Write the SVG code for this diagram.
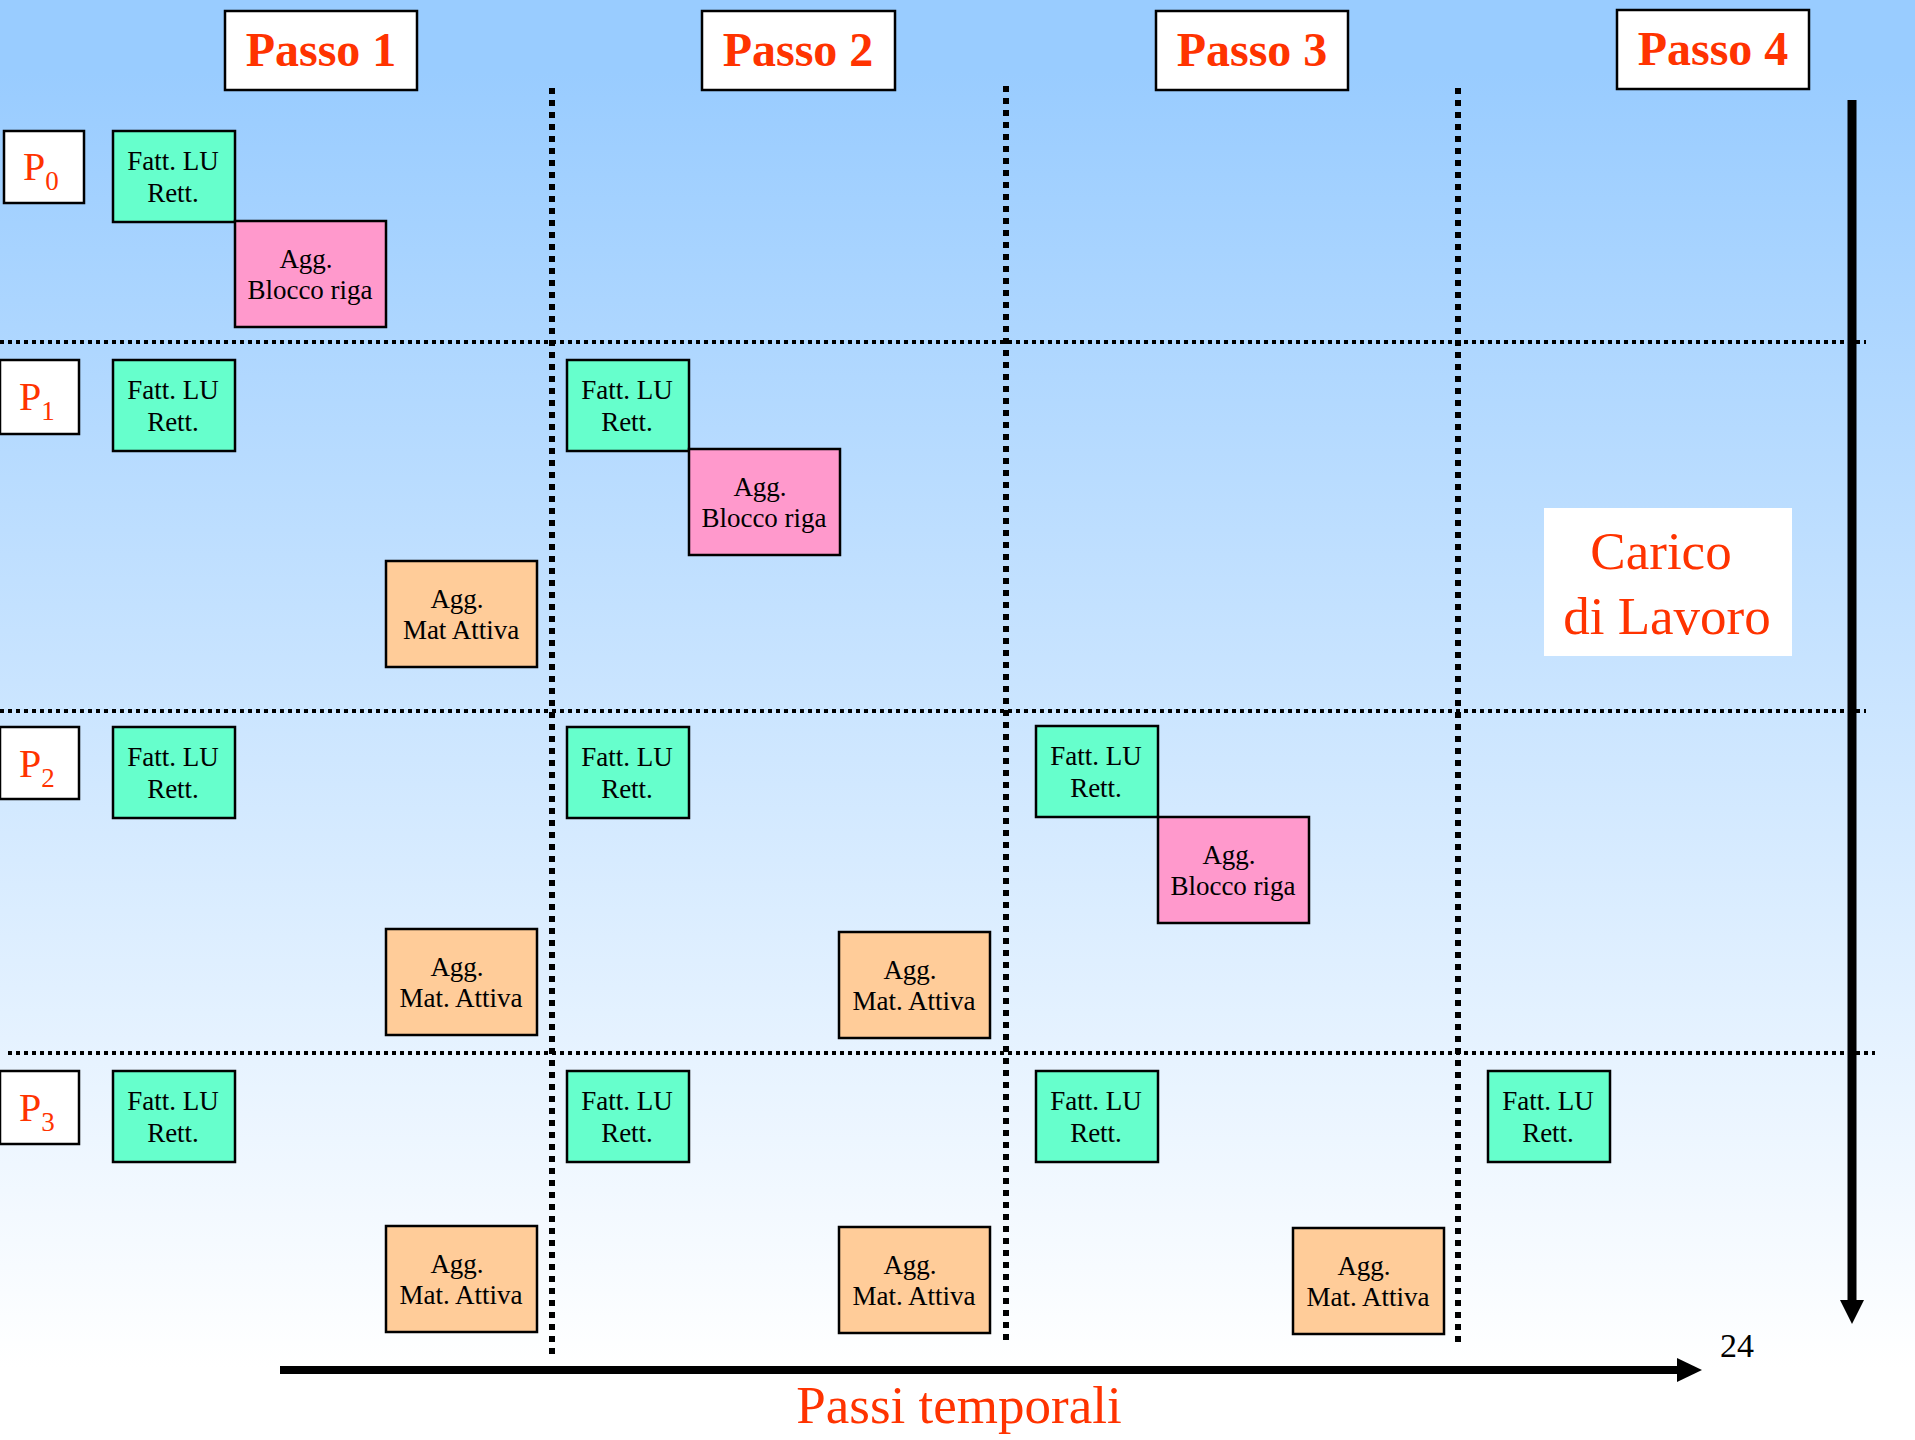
<svg xmlns="http://www.w3.org/2000/svg" width="1915" height="1440" viewBox="0 0 1915 1440">
<defs>
<linearGradient id="bg" x1="0" y1="0" x2="0" y2="1440" gradientUnits="userSpaceOnUse">
<stop offset="0.05" stop-color="#99CCFF"/>
<stop offset="0.95" stop-color="#FFFFFF"/>
</linearGradient>
<style>
.fatt{fill:#66FFCC;stroke:#000;stroke-width:2.5}
.aggb{fill:#FF99CC;stroke:#000;stroke-width:2.5}
.aggm{fill:#FFCC99;stroke:#000;stroke-width:2.5}
.wbox{fill:#FFFFFF;stroke:#000;stroke-width:2.5}
.t{font-family:"Liberation Serif","Times New Roman",serif;font-size:27px;fill:#000;text-anchor:middle}
.passo{font-family:"Liberation Serif","Times New Roman",serif;font-size:48px;font-weight:bold;fill:#FF3300;text-anchor:middle}
.red{font-family:"Liberation Serif","Times New Roman",serif;fill:#FF3300}
.vdot{stroke:#000;stroke-width:6;stroke-dasharray:6 6;fill:none}
.hdot{stroke:#000;stroke-width:4;stroke-dasharray:4 4;fill:none}
</style>
</defs>
<rect x="0" y="0" width="1915" height="1440" fill="url(#bg)"/>

<g id="grid">
<line class="hdot" x1="0" y1="342" x2="1866" y2="342"/>
<line class="hdot" x1="0" y1="711" x2="1866" y2="711"/>
<line class="hdot" x1="8" y1="1053" x2="1875" y2="1053"/>
<line class="vdot" x1="552" y1="88" x2="552" y2="1355"/>
<line class="vdot" x1="1006" y1="86" x2="1006" y2="1340"/>
<line class="vdot" x1="1458" y1="88" x2="1458" y2="1343"/>
</g>

<g id="passo1"><rect class="wbox" x="225" y="11" width="192" height="79"/><text class="passo" x="321" y="66">Passo 1</text></g>
<g id="passo2"><rect class="wbox" x="702" y="11" width="193" height="79"/><text class="passo" x="798" y="66">Passo 2</text></g>
<g id="passo3"><rect class="wbox" x="1156" y="11" width="192" height="79"/><text class="passo" x="1252" y="66">Passo 3</text></g>
<g id="passo4"><rect class="wbox" x="1617" y="10" width="192" height="79"/><text class="passo" x="1713" y="65">Passo 4</text></g>

<g id="p0"><rect class="wbox" x="4" y="131" width="80" height="72"/><text class="red" x="23" y="180" font-size="40">P<tspan font-size="27" dy="10">0</tspan></text></g>
<g id="p1"><rect class="wbox" x="0" y="360" width="79" height="74"/><text class="red" x="19" y="410" font-size="40">P<tspan font-size="27" dy="10">1</tspan></text></g>
<g id="p2"><rect class="wbox" x="0" y="727" width="79" height="72"/><text class="red" x="19" y="777" font-size="40">P<tspan font-size="27" dy="10">2</tspan></text></g>
<g id="p3"><rect class="wbox" x="0" y="1071" width="79" height="73"/><text class="red" x="19" y="1121" font-size="40">P<tspan font-size="27" dy="10">3</tspan></text></g>

<g id="p0-fatt1"><rect class="fatt" x="113" y="131" width="122" height="91"/><text class="t" x="173" y="170">Fatt. LU</text><text class="t" x="173" y="202">Rett.</text></g>
<g id="p0-aggb1"><rect class="aggb" x="235" y="221" width="151" height="106"/><text class="t" x="306" y="268">Agg.</text><text class="t" x="310" y="299">Blocco riga</text></g>

<g id="p1-fatt1"><rect class="fatt" x="113" y="360" width="122" height="91"/><text class="t" x="173" y="399">Fatt. LU</text><text class="t" x="173" y="431">Rett.</text></g>
<g id="p1-fatt2"><rect class="fatt" x="567" y="360" width="122" height="91"/><text class="t" x="627" y="399">Fatt. LU</text><text class="t" x="627" y="431">Rett.</text></g>
<g id="p1-aggb2"><rect class="aggb" x="689" y="449" width="151" height="106"/><text class="t" x="760" y="496">Agg.</text><text class="t" x="764" y="527">Blocco riga</text></g>
<g id="p1-aggm1"><rect class="aggm" x="386" y="561" width="151" height="106"/><text class="t" x="457" y="608">Agg.</text><text class="t" x="461" y="639">Mat Attiva</text></g>

<g id="p2-fatt1"><rect class="fatt" x="113" y="727" width="122" height="91"/><text class="t" x="173" y="766">Fatt. LU</text><text class="t" x="173" y="798">Rett.</text></g>
<g id="p2-fatt2"><rect class="fatt" x="567" y="727" width="122" height="91"/><text class="t" x="627" y="766">Fatt. LU</text><text class="t" x="627" y="798">Rett.</text></g>
<g id="p2-fatt3"><rect class="fatt" x="1036" y="726" width="122" height="91"/><text class="t" x="1096" y="765">Fatt. LU</text><text class="t" x="1096" y="797">Rett.</text></g>
<g id="p2-aggb3"><rect class="aggb" x="1158" y="817" width="151" height="106"/><text class="t" x="1229" y="864">Agg.</text><text class="t" x="1233" y="895">Blocco riga</text></g>
<g id="p2-aggm1"><rect class="aggm" x="386" y="929" width="151" height="106"/><text class="t" x="457" y="976">Agg.</text><text class="t" x="461" y="1007">Mat. Attiva</text></g>
<g id="p2-aggm2"><rect class="aggm" x="839" y="932" width="151" height="106"/><text class="t" x="910" y="979">Agg.</text><text class="t" x="914" y="1010">Mat. Attiva</text></g>

<g id="p3-fatt1"><rect class="fatt" x="113" y="1071" width="122" height="91"/><text class="t" x="173" y="1110">Fatt. LU</text><text class="t" x="173" y="1142">Rett.</text></g>
<g id="p3-fatt2"><rect class="fatt" x="567" y="1071" width="122" height="91"/><text class="t" x="627" y="1110">Fatt. LU</text><text class="t" x="627" y="1142">Rett.</text></g>
<g id="p3-fatt3"><rect class="fatt" x="1036" y="1071" width="122" height="91"/><text class="t" x="1096" y="1110">Fatt. LU</text><text class="t" x="1096" y="1142">Rett.</text></g>
<g id="p3-fatt4"><rect class="fatt" x="1488" y="1071" width="122" height="91"/><text class="t" x="1548" y="1110">Fatt. LU</text><text class="t" x="1548" y="1142">Rett.</text></g>
<g id="p3-aggm1"><rect class="aggm" x="386" y="1226" width="151" height="106"/><text class="t" x="457" y="1273">Agg.</text><text class="t" x="461" y="1304">Mat. Attiva</text></g>
<g id="p3-aggm2"><rect class="aggm" x="839" y="1227" width="151" height="106"/><text class="t" x="910" y="1274">Agg.</text><text class="t" x="914" y="1305">Mat. Attiva</text></g>
<g id="p3-aggm3"><rect class="aggm" x="1293" y="1228" width="151" height="106"/><text class="t" x="1364" y="1275">Agg.</text><text class="t" x="1368" y="1306">Mat. Attiva</text></g>

<g id="carico">
<rect x="1544" y="508" width="248" height="148" fill="#FFFFFF"/>
<text class="red" x="1661" y="569" font-size="53" text-anchor="middle">Carico</text>
<text class="red" x="1667" y="634" font-size="53" text-anchor="middle">di Lavoro</text>
</g>

<g id="connectors">
<line x1="1852" y1="100" x2="1852" y2="1302" stroke="#000" stroke-width="9"/>
<polygon points="1840,1300 1864,1300 1852,1324" fill="#000"/>
<line x1="280" y1="1370" x2="1679" y2="1370" stroke="#000" stroke-width="8"/>
<polygon points="1677,1358 1677,1382 1702,1370" fill="#000"/>
</g>

<g id="labels">
<text x="1720" y="1357" font-family="Liberation Serif, Times New Roman, serif" font-size="34" fill="#000">24</text>
<text class="red" x="959" y="1423" font-size="53" text-anchor="middle">Passi temporali</text>
</g>
</svg>
